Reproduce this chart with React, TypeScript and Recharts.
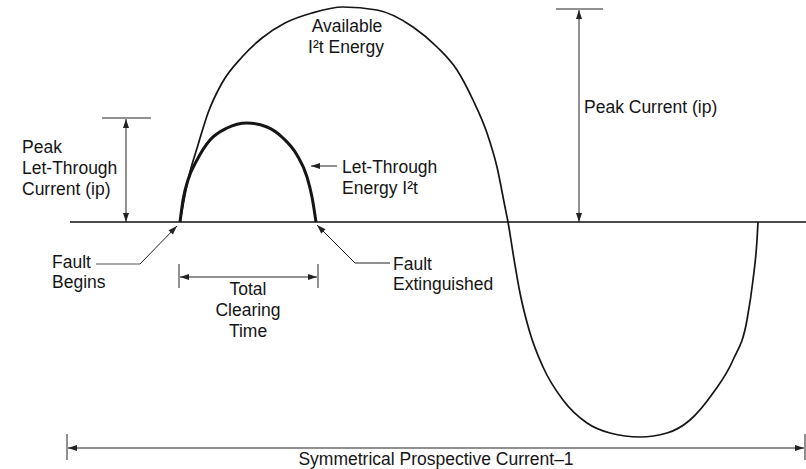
import React from 'react';
import { ComposedChart, Line, XAxis, YAxis, ReferenceLine, ReferenceDot } from 'recharts';

// time since fault (chart units) and current (chart units, 0 = baseline)
const availableT = [0, 4, 8, 18, 28, 42, 62, 82, 105, 132, 163, 197, 233, 257, 277, 293, 307, 317, 325, 328, 333, 340, 350, 363, 383, 407, 430, 460, 487, 510, 533, 553, 567, 573, 577, 578];
const availableI = [0, 22, 42, 77, 109, 139, 165, 184, 199, 209, 215, 212, 195, 175, 152, 122, 89, 55, 15, 0, -31, -71, -111, -145, -178, -201, -211, -215, -211, -198, -171, -138, -98, -58, -18, 0];

const letThroughT = [0, 3, 8, 17, 30, 47, 67, 87, 103, 117, 127, 132, 136];
const letThroughI = [0, 22, 42, 62, 82, 94, 99, 95, 84, 67, 45, 25, 0];

const availableData = availableT.map((t, k) => ({ t, i: availableI[k] }));
const letThroughData = letThroughT.map((t, k) => ({ t, i: letThroughI[k] }));

const INK = '#151515';
const FONT = '"Liberation Sans", Arial, Helvetica, sans-serif';

type Seg = { a: [number, number]; b: [number, number]; start?: boolean; end?: boolean; w?: number; color?: string };

// annotation segments: [t, i] pairs
const segments: Seg[] = [
  { a: [-110, 0], b: [626, 0], w: 1.5, color: '#111' },
  // peak let-through
  { a: [-78, 104], b: [-29, 104] },
  { a: [-54, 103], b: [-54, 0], start: true, end: true },
  // peak current
  { a: [376, 213], b: [423, 213] },
  { a: [399, 212], b: [399, 0], start: true, end: true },
  // let-through energy pointer
  { a: [157, 56], b: [131, 56], end: true },
  // fault extinguished leader
  { a: [210, -41], b: [175, -41] },
  { a: [175, -41], b: [137, -3], end: true },
  // fault begins leader
  { a: [-84, -42], b: [-40, -42], color: '#555' },
  { a: [-40, -42], b: [-3, -4], end: true },
  // total clearing time
  { a: [-1, -42], b: [-1, -66] },
  { a: [138, -42], b: [138, -66] },
  { a: [0, -55], b: [137, -55], start: true, end: true },
  // symmetrical prospective current
  { a: [-113, -212], b: [-113, -238] },
  { a: [625, -212], b: [625, -238] },
  { a: [-112, -226], b: [624, -226], start: true, end: true },
];

type Txt = { t: number; i: number; text: string; anchor?: 'start' | 'middle' | 'end' };

const labels: Txt[] = [
  { t: 167, i: 190, text: 'Available', anchor: 'middle' },
  { t: 166, i: 169, text: 'I²t Energy', anchor: 'middle' },
  { t: -158, i: 69, text: 'Peak' },
  { t: -158, i: 48, text: 'Let-Through' },
  { t: -158, i: 27, text: 'Current (ip)' },
  { t: 162, i: 49, text: 'Let-Through' },
  { t: 162, i: 28, text: 'Energy I²t' },
  { t: 404, i: 109, text: 'Peak Current (ip)' },
  { t: -128, i: -46, text: 'Fault' },
  { t: -128, i: -66, text: 'Begins' },
  { t: 213, i: -48, text: 'Fault' },
  { t: 213, i: -68, text: 'Extinguished' },
  { t: 68, i: -73, text: 'Total', anchor: 'middle' },
  { t: 68, i: -94, text: 'Clearing', anchor: 'middle' },
  { t: 68, i: -115, text: 'Time', anchor: 'middle' },
  { t: 256, i: -243, text: 'Symmetrical Prospective Current–1', anchor: 'middle' },
];

const head = (x: number, y: number, ang: number, color: string) => {
  const len = 9;
  const hw = 3;
  const bx = x - len * Math.cos(ang);
  const by = y - len * Math.sin(ang);
  const px = -Math.sin(ang) * hw;
  const py = Math.cos(ang) * hw;
  return <polygon points={`${x},${y} ${bx + px},${by + py} ${bx - px},${by - py}`} fill={color} />;
};

const arrowShape = (s: Seg) => (p: any) => {
  const { x1, y1, x2, y2 } = p;
  const color = s.color || '#222';
  const ang = Math.atan2(y2 - y1, x2 - x1);
  return (
    <g>
      <line x1={x1} y1={y1} x2={x2} y2={y2} stroke={color} strokeWidth={s.w || 1} />
      {s.start && head(x1, y1, ang + Math.PI, color)}
      {s.end && head(x2, y2, ang, color)}
    </g>
  );
};

const textShape = (l: Txt) => (p: any) => (
  <text x={p.cx} y={p.cy} textAnchor={l.anchor || 'start'} fontFamily={FONT} fontSize={17.5} fill={INK}>
    {l.text}
  </text>
);

export default function App() {
  return (
    <div style={{ position: 'absolute', left: 0, top: 0, width: 806, height: 469, background: '#fff' }}>
      <ComposedChart width={806} height={469} margin={{ top: 0, right: 0, bottom: 0, left: 0 }}>
        <XAxis type="number" dataKey="t" domain={[-180, 626]} hide allowDataOverflow />
        <YAxis type="number" dataKey="i" domain={[-247, 222]} hide allowDataOverflow />
        {segments.map((s, k) => (
          <ReferenceLine
            key={`s${k}`}
            segment={[{ x: s.a[0], y: s.a[1] }, { x: s.b[0], y: s.b[1] }]}
            stroke={s.color || '#222'}
            shape={arrowShape(s)}
            ifOverflow="visible"
          />
        ))}
        <Line
          data={availableData}
          dataKey="i"
          type="monotone"
          stroke={INK}
          strokeWidth={1.7}
          dot={false}
          activeDot={false}
          isAnimationActive={false}
        />
        <Line
          data={letThroughData}
          dataKey="i"
          type="monotone"
          stroke={INK}
          strokeWidth={3}
          dot={false}
          activeDot={false}
          isAnimationActive={false}
        />
        {labels.map((l, k) => (
          <ReferenceDot key={`l${k}`} x={l.t} y={l.i} r={1} shape={textShape(l)} ifOverflow="visible" />
        ))}
      </ComposedChart>
    </div>
  );
}
